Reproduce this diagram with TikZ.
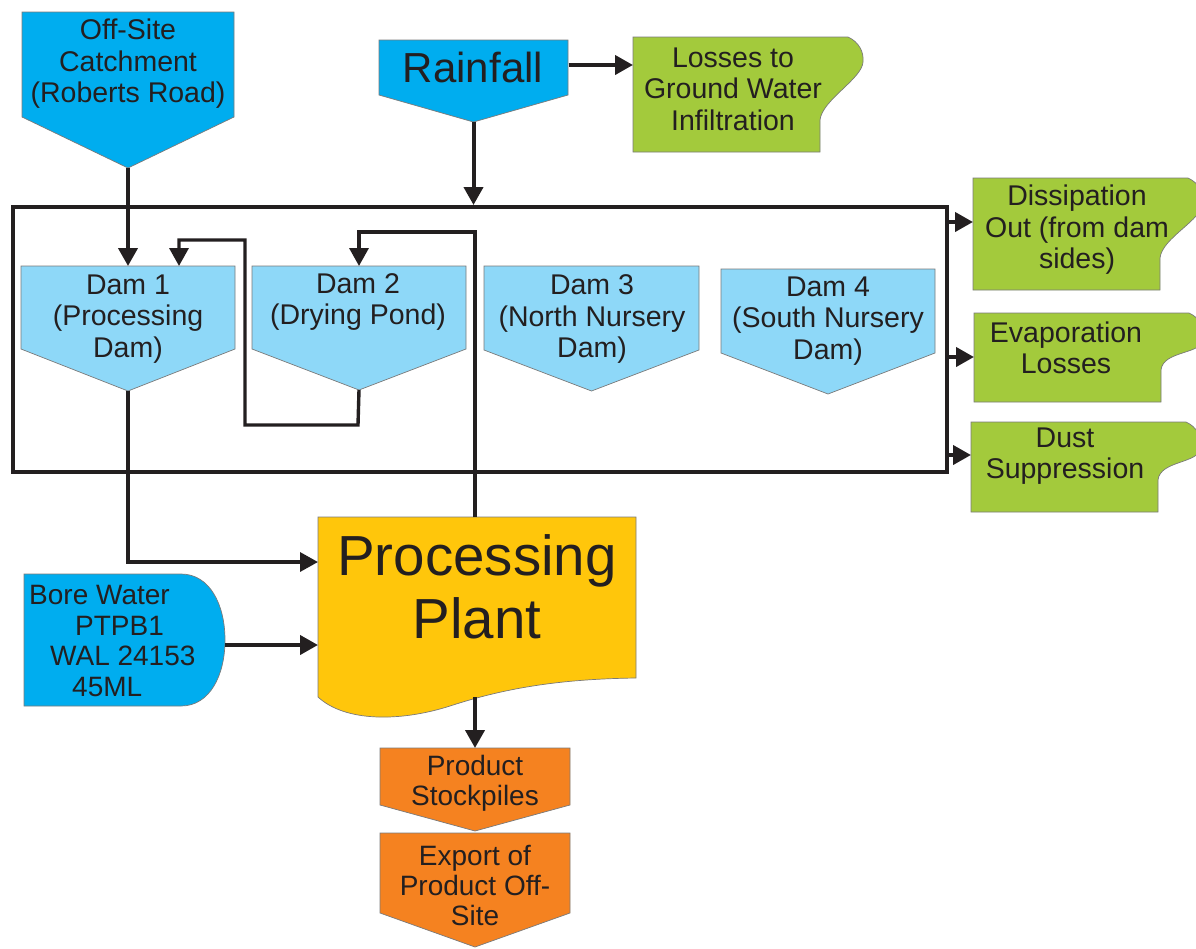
\documentclass[tikz,border=0pt]{standalone}
\usepackage{fontspec}
\setmainfont{Liberation Sans}
\usetikzlibrary{arrows.meta}
\definecolor{txt}{HTML}{231F20}
\definecolor{blu}{HTML}{00ADEF}
\definecolor{lblu}{HTML}{8ED8F8}
\definecolor{grn}{HTML}{A3CA3C}
\definecolor{yel}{HTML}{FFC60B}
\definecolor{org}{HTML}{F58220}
\definecolor{edge}{HTML}{7A7A7A}
\newcommand{\pentbox}[7]{%
  \path[shapeline, fill=#2] (#3,#5) -- (#4,#5) -- (#4,#6) -- ({(#3+#4)/2},#7) -- (#3,#6) -- cycle;
  \coordinate (#1-top) at ({(#3+#4)/2},#5);
  \coordinate (#1-tip) at ({(#3+#4)/2},#7);
}
\newcommand{\greenbox}[4]{%
  \path[shapeline, fill=grn] (#2,#3) -- ({#2+215},#3)
    .. controls ({#2+226},{#3+5}) and ({#2+231},{#3+15}) .. ({#2+230},{#3+25})
    .. controls ({#2+229},{#3+42}) and ({#2+189},{#4-52}) .. ({#2+187},{#4-32})
    -- ({#2+187},#4) -- (#2,#4) -- cycle;
}
\begin{document}
\begin{tikzpicture}[x=1pt,y=-1pt,
  shapeline/.style={draw=edge, line width=0.7pt},
  lbl/.style={align=center, text=txt, font=\fontsize{28.5}{31.5}\selectfont, inner sep=0pt},
  tip/.style={-{Triangle[length=18pt,width=19pt]}},
  flow/.style={draw=txt, line width=4pt, tip},
  link/.style={draw=txt, line width=3.4pt},
]
\useasboundingbox (0,0) rectangle (1196,948);
\clip (0,0) rectangle (1196,948);

% pond boundary box
\node[draw=txt, line width=4.2pt, minimum width=934pt, minimum height=265pt,
      inner sep=0pt, anchor=north west] (pond) at (11,205) {};

% sources
\pentbox{off}{blu}{22}{234}{12}{117}{168}
\node[lbl] (offtxt) at (128,64) {Off-Site\\Catchment\\(Roberts Road)};
\pentbox{rain}{blu}{379}{568}{40}{95}{122}
\node[lbl, font=\fontsize{42}{45}\selectfont] (raintxt) at (473,67) {Rainfall};

% losses
\greenbox{loss}{633}{37}{152}
\node[lbl] (losstxt) at (733,89) {Losses to\\Ground Water\\Infiltration};
\greenbox{diss}{973}{178}{290}
\node[lbl] (disstxt) at (1077,230) {Dissipation\\Out (from dam\\sides)};
\greenbox{evap}{974}{313}{402}
\node[lbl] (evaptxt) at (1066,348) {Evaporation\\Losses};
\greenbox{dust}{971}{422}{512}
\node[lbl] (dusttxt) at (1065,456) {Dust\\Suppression};

% dams
\pentbox{dama}{lblu}{21}{235}{266}{349}{391}
\node[lbl] (damatxt) at (128,319) {Dam 1\\(Processing\\Dam)};
\pentbox{damb}{lblu}{252}{466}{266}{349}{390}
\node[lbl] (dambtxt) at (358,302) {Dam 2\\(Drying Pond)};
\pentbox{damc}{lblu}{484}{699}{266}{350}{391}
\node[lbl] (damctxt) at (592,319) {Dam 3\\(North Nursery\\Dam)};
\pentbox{damd}{lblu}{721}{935}{269}{353}{394}
\node[lbl] (damdtxt) at (828,321) {Dam 4\\(South Nursery\\Dam)};

% processing plant
\path[shapeline, fill=yel] (318,517) -- (636,517) -- (636,678)
  .. controls (560,679) and (505,688) .. (450,706)
  .. controls (400,722) and (345,722) .. (318,697) -- cycle;
\coordinate (plant-top) at (475,517);
\coordinate (plant-bot) at (475,697);
\coordinate (plant-w) at (318,600);
\node[lbl, font=\fontsize{56.5}{63}\selectfont] (planttxt) at (477,587) {Processing\\Plant};

% bore water
\path[shapeline, fill=blu] (24,574) -- (181,574)
  .. controls (210,574) and (225,605) .. (225,640)
  .. controls (225,675) and (210,706) .. (181,706) -- (24,706) -- cycle;
\coordinate (bore-e) at (225,645);
\node[lbl, align=left, anchor=west, font=\fontsize{28}{30.5}\selectfont] (boretxt) at (29,641)
  {Bore Water\\\hspace*{46pt}PTPB1\\\hspace*{21pt}WAL 24153\\\hspace*{43pt}45ML};

% products
\pentbox{prod}{org}{380}{570}{748}{805}{831}
\node[lbl, font=\fontsize{28}{30}\selectfont] (prodtxt) at (475,783) {Product\\Stockpiles};
\pentbox{exp}{org}{380}{570}{833}{913}{947}
\node[lbl, font=\fontsize{28}{30}\selectfont] (exptxt) at (475,885) {Export of\\Product Off-\\Site};

% connectors
\draw[flow] (off-tip) -- (dama-top);
\draw[flow] (rain-tip) -- (rain-tip |- pond.north);
\coordinate (loss-in) at (633,65);
\draw[flow] (loss-in -| rain-tip) ++(95,0) -- (loss-in);
\coordinate (diss-in) at (973,222);
\coordinate (evap-in) at (974,357);
\coordinate (dust-in) at (971,455);
\draw[flow] (diss-in -| pond.east) -- (diss-in);
\draw[flow] (evap-in -| pond.east) -- (evap-in);
\draw[flow] (dust-in -| pond.east) -- (dust-in);

\coordinate (dama-in) at (179,266);
\draw[link, tip] (damb-tip) -- (358,425) -- (245,425) -- (245,240) -- (dama-in |- 0,240) -- (dama-in);
\draw[link, tip] (plant-top) -- (475,232) -- (damb-top |- 0,232) -- (damb-top);
\coordinate (plant-in) at (318,562);
\draw[link, tip] (dama-tip) -- (dama-tip |- plant-in) -- (plant-in);
\draw[flow] (bore-e) -- (bore-e -| plant-w);
\draw[flow] (plant-bot) -- (prod-top);
\end{tikzpicture}
\end{document}
